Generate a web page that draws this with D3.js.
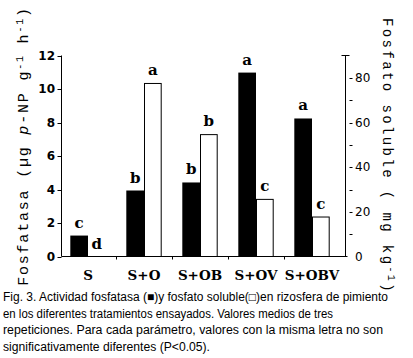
<!DOCTYPE html>
<html>
<head>
<meta charset="utf-8">
<script src="https://cdn.jsdelivr.net/npm/d3@7"></script>
<style>
  body { margin: 0; background: #fff; }
  svg { display: block; }
</style>
</head>
<body>
<script>
const categories = ["S", "S+O", "S+OB", "S+OV", "S+OBV"];
const fosfatasa = [1.25, 3.94, 4.42, 10.98, 8.24];
const fosfato = [0, 77.7, 54.8, 25.8, 17.9];
const sigFosfatasa = ["c", "b", "b", "a", "a"];
const sigFosfato = ["d", "a", "b", "c", "c"];
const leftTicks = [0, 2, 4, 6, 8, 10, 12];
const rightMajor = [0, 20, 40, 60, 80];
const rightMinor = [10, 30, 50, 70];
const captionLines = [
  "Fig. 3. Actividad fosfatasa (\u25A0)y fosfato soluble(\u25A1)en rizosfera de pimiento",
  "en los diferentes tratamientos ensayados. Valores medios de tres",
  "repeticiones. Para cada parámetro, valores con la misma letra no son",
  "significativamente diferentes (P<0.05)."
];
const captionWidths = [385, 330, 380, 207];

const W = 413, H = 358;
const svg = d3.select("body").append("svg").attr("width", W).attr("height", H);

const x0 = 61.5, x1 = 345.5, yBase = 256.5, yTop = 55.5;
const x = d3.scaleBand().domain(categories).range([60, 340]);
const yL = d3.scaleLinear().domain([0, 12]).range([yBase, yTop]);
const yR = d3.scaleLinear().domain([0, 90]).range([yBase, yTop]);
const bw = x.bandwidth() * 0.316;
const cx = d => x(d) + x.bandwidth() / 2;
const serif = "DejaVu Serif";

// bars
const g = svg.append("g");
categories.forEach((c, i) => {
  g.append("rect").attr("x", cx(c) - bw).attr("width", bw)
    .attr("y", yL(fosfatasa[i])).attr("height", yBase - yL(fosfatasa[i]))
    .attr("fill", "#000");
  if (fosfato[i] > 0) {
    g.append("rect").attr("x", cx(c) + 0.5).attr("width", bw - 1)
      .attr("y", yR(fosfato[i]) + 0.5).attr("height", yBase - yR(fosfato[i]) - 0.5)
      .attr("fill", "#fff").attr("stroke", "#000").attr("stroke-width", 1);
  }
  g.append("text").attr("x", cx(c) - bw / 2).attr("y", yL(fosfatasa[i]) - 8)
    .attr("text-anchor", "middle").attr("font-family", serif)
    .attr("font-weight", "bold").attr("font-size", 15).text(sigFosfatasa[i]);
  g.append("text").attr("x", cx(c) + bw / 2).attr("y", yR(fosfato[i]) - 8)
    .attr("text-anchor", "middle").attr("font-family", serif)
    .attr("font-weight", "bold").attr("font-size", 15).text(sigFosfato[i]);
});

// axes lines
const ax = svg.append("g").attr("stroke", "#000").attr("stroke-width", 1).attr("fill", "none");
ax.append("line").attr("x1", x0).attr("x2", x0).attr("y1", yTop).attr("y2", yBase);
ax.append("line").attr("x1", x0).attr("x2", x1 + 2).attr("y1", yBase).attr("y2", yBase);
ax.append("line").attr("x1", x1).attr("x2", x1).attr("y1", yTop).attr("y2", yBase);
ax.append("line").attr("x1", x1 - 4).attr("x2", x1 + 4).attr("y1", yTop).attr("y2", yTop);

// left ticks
leftTicks.forEach(t => {
  ax.append("line").attr("x1", x0 - 4).attr("x2", x0).attr("y1", Math.round(yL(t)) + 0.5).attr("y2", Math.round(yL(t)) + 0.5);
  svg.append("text").attr("x", 55).attr("y", yL(t)).attr("dy", "0.36em")
    .attr("text-anchor", "end").attr("font-family", "DejaVu Sans").attr("font-weight", "bold")
    .attr("font-size", 12).text(t);
});
// bottom ticks between groups
categories.slice(1).forEach(c => {
  ax.append("line").attr("x1", Math.round(x(c)) + 0.5).attr("x2", Math.round(x(c)) + 0.5)
    .attr("y1", yBase).attr("y2", yBase + 3);
});
// right ticks
rightMajor.concat(rightMinor).forEach(t => {
  const yy = Math.round(yR(t)) + 0.5;
  if (t === 0) return;
  ax.append("line").attr("x1", x1 + 4).attr("x2", x1 + 7).attr("y1", yy).attr("y2", yy);
});
rightMajor.forEach(t => {
  svg.append("text").attr("x", 355).attr("y", yR(t)).attr("dy", "0.36em")
    .attr("font-family", "DejaVu Sans").attr("font-size", 12).text(t);
});

// category labels
categories.forEach(c => {
  svg.append("text").attr("x", cx(c)).attr("y", 280).attr("text-anchor", "middle")
    .attr("font-family", serif).attr("font-weight", "bold").attr("font-size", 13.5).text(c);
});

// left title
const lt = svg.append("text").attr("transform", "translate(28,146) rotate(-90)")
  .attr("text-anchor", "middle").attr("font-family", "Liberation Mono").attr("font-size", 15)
  .attr("letter-spacing", 1.8);
lt.append("tspan").text("Fosfatasa (\u00B5g ");
lt.append("tspan").attr("font-style", "italic").text("p");
lt.append("tspan").text("-NP g");
lt.append("tspan").attr("font-size", 10).attr("baseline-shift", "super").text("-1");
lt.append("tspan").text(" h");
lt.append("tspan").attr("font-size", 10).attr("baseline-shift", "super").text("-1");
lt.append("tspan").text(")");

// right title
const rt = svg.append("text").attr("transform", "translate(383,18) rotate(90)")
  .attr("font-family", "Liberation Mono").attr("font-size", 14).attr("letter-spacing", 2.4);
rt.append("tspan").text("Fosfato soluble ( mg kg");
rt.append("tspan").attr("font-size", 10).attr("baseline-shift", "super").text("-1");
rt.append("tspan").text(")");

// caption
captionLines.forEach((l, i) => {
  svg.append("text").attr("x", 3).attr("y", 301 + i * 16.5)
    .attr("font-family", "Liberation Sans").attr("font-size", 12)
    .attr("textLength", captionWidths[i]).attr("lengthAdjust", "spacingAndGlyphs")
    .text(l);
});
</script>
</body>
</html>
